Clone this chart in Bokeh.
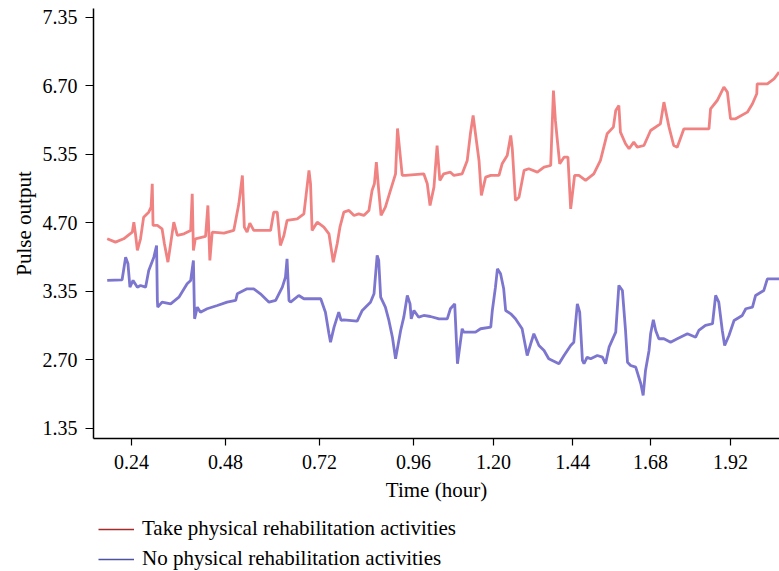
from bokeh.plotting import figure
from bokeh.layouts import column
from bokeh.models import Legend, LegendItem, FixedTicker, Range1d
from bokeh.embed import file_html
from bokeh.resources import INLINE

# Series: "Take physical rehabilitation activities"
time_take = [0.178, 0.199, 0.220, 0.242, 0.246, 0.250, 0.255, 0.263, 0.271, 0.284,
             0.290, 0.293, 0.295, 0.306, 0.318, 0.324, 0.333, 0.340, 0.348, 0.357,
             0.374, 0.391, 0.395, 0.398, 0.403, 0.429, 0.435, 0.440, 0.446, 0.476,
             0.501, 0.514, 0.523, 0.528, 0.535, 0.542, 0.552, 0.595, 0.603, 0.612,
             0.620, 0.629, 0.637, 0.663, 0.680, 0.693, 0.697, 0.701, 0.714, 0.731,
             0.744, 0.755, 0.765, 0.772, 0.782, 0.795, 0.808, 0.820, 0.833, 0.846,
             0.854, 0.860, 0.865, 0.871, 0.877, 0.888, 0.901, 0.914, 0.919, 0.931,
             0.939, 0.986, 0.995, 1.002, 1.012, 1.020, 1.027, 1.037, 1.054, 1.063,
             1.084, 1.097, 1.105, 1.112, 1.118, 1.127, 1.133, 1.144, 1.157, 1.178,
             1.186, 1.199, 1.208, 1.212, 1.220, 1.229, 1.242, 1.254, 1.276, 1.293,
             1.310, 1.317, 1.322, 1.327, 1.333, 1.344, 1.354, 1.361, 1.371, 1.382,
             1.399, 1.420, 1.437, 1.454, 1.470, 1.476, 1.484, 1.488, 1.501, 1.510,
             1.522, 1.531, 1.548, 1.565, 1.590, 1.599, 1.612, 1.624, 1.633, 1.650,
             1.714, 1.718, 1.735, 1.752, 1.761, 1.769, 1.782, 1.812, 1.825, 1.836,
             1.837, 1.863, 1.880, 1.893]
pulse_take = [4.119, 4.070, 4.119, 4.216, 4.362, 4.197, 3.949, 4.119, 4.435, 4.508,
              4.581, 4.922, 4.314, 4.314, 4.265, 4.046, 3.778, 4.051, 4.362, 4.168,
              4.192, 4.241, 4.776, 3.949, 4.119, 4.153, 4.606, 3.803, 4.216, 4.201,
              4.241, 4.630, 5.044, 4.289, 4.216, 4.347, 4.241, 4.241, 4.508, 4.508,
              4.022, 4.168, 4.387, 4.411, 4.484, 5.117, 4.922, 4.241, 4.362, 4.289,
              4.192, 3.778, 4.046, 4.289, 4.508, 4.533, 4.460, 4.484, 4.460, 4.533,
              4.825, 4.922, 5.238, 4.825, 4.460, 4.581, 4.825, 5.068, 5.730, 5.044,
              5.044, 5.068, 4.922, 4.606, 4.873, 5.481, 4.971, 5.068, 5.092, 5.044,
              5.068, 5.263, 5.652, 5.919, 5.652, 5.263, 4.752, 5.019, 5.044, 5.044,
              5.214, 5.336, 5.628, 5.433, 4.679, 4.727, 5.117, 5.141, 5.092, 5.165,
              5.189, 6.284, 5.847, 5.554, 5.214, 5.311, 5.311, 4.557, 5.044, 5.044,
              4.971, 5.068, 5.263, 5.652, 5.749, 5.992, 6.065, 5.676, 5.506, 5.433,
              5.530, 5.457, 5.481, 5.700, 5.798, 6.114, 5.749, 5.481, 5.457, 5.725,
              5.725, 6.017, 6.138, 6.333, 6.260, 5.871, 5.871, 5.968, 6.090, 6.236,
              6.382, 6.382, 6.455, 6.552]

# Series: "No physical rehabilitation activities"
time_no = [0.178, 0.216, 0.225, 0.231, 0.236, 0.244, 0.255, 0.263, 0.276, 0.284,
           0.297, 0.304, 0.306, 0.307, 0.318, 0.340, 0.361, 0.382, 0.391, 0.398,
           0.401, 0.408, 0.416, 0.433, 0.459, 0.484, 0.506, 0.510, 0.535, 0.552,
           0.569, 0.591, 0.608, 0.625, 0.633, 0.637, 0.642, 0.646, 0.667, 0.680,
           0.697, 0.723, 0.735, 0.744, 0.748, 0.757, 0.769, 0.775, 0.782, 0.816,
           0.829, 0.850, 0.859, 0.867, 0.871, 0.876, 0.888, 0.897, 0.906, 0.914,
           0.927, 0.935, 0.944, 0.951, 0.954, 0.961, 0.973, 0.986, 1.003, 1.025,
           1.046, 1.054, 1.065, 1.072, 1.084, 1.088, 1.118, 1.131, 1.157, 1.161,
           1.169, 1.174, 1.182, 1.190, 1.195, 1.208, 1.220, 1.237, 1.250, 1.259,
           1.267, 1.280, 1.293, 1.305, 1.331, 1.344, 1.361, 1.369, 1.378, 1.384,
           1.391, 1.395, 1.403, 1.412, 1.429, 1.442, 1.450, 1.459, 1.476, 1.484,
           1.493, 1.501, 1.506, 1.514, 1.527, 1.540, 1.546, 1.552, 1.561, 1.565,
           1.572, 1.578, 1.586, 1.599, 1.616, 1.633, 1.659, 1.680, 1.688, 1.705,
           1.723, 1.731, 1.739, 1.748, 1.754, 1.765, 1.778, 1.799, 1.808, 1.825,
           1.833, 1.854, 1.863, 1.893]
pulse_no = [3.511, 3.521, 3.851, 3.754, 3.413, 3.511, 3.413, 3.438, 3.413, 3.657,
            3.851, 4.022, 3.219, 3.121, 3.194, 3.170, 3.267, 3.462, 3.511, 3.803,
            2.951, 3.121, 3.048, 3.098, 3.146, 3.194, 3.219, 3.316, 3.389, 3.389,
            3.316, 3.194, 3.219, 3.413, 3.559, 3.827, 3.219, 3.194, 3.292, 3.244,
            3.244, 3.244, 3.048, 2.733, 2.610, 2.829, 3.048, 2.927, 2.937, 2.916,
            3.073, 3.194, 3.316, 3.876, 3.803, 3.267, 3.121, 2.927, 2.683, 2.368,
            2.781, 2.975, 3.292, 3.170, 2.951, 3.073, 2.975, 3.000, 2.985, 2.951,
            2.951, 3.098, 3.170, 2.295, 2.806, 2.756, 2.756, 2.806, 2.829, 3.073,
            3.413, 3.681, 3.608, 3.389, 3.073, 3.024, 2.951, 2.806, 2.416, 2.587,
            2.733, 2.562, 2.489, 2.368, 2.295, 2.416, 2.562, 2.610, 3.170, 3.048,
            2.343, 2.295, 2.391, 2.368, 2.416, 2.391, 2.295, 2.537, 2.756, 3.438,
            3.365, 2.781, 2.318, 2.270, 2.245, 2.003, 1.832, 2.197, 2.489, 2.733,
            2.937, 2.781, 2.660, 2.660, 2.610, 2.660, 2.733, 2.683, 2.781, 2.854,
            2.879, 3.292, 3.194, 2.781, 2.562, 2.708, 2.927, 3.000, 3.098, 3.121,
            3.292, 3.365, 3.535, 3.535]

x_tick_pos = [0.24, 0.48, 0.72, 0.96, 1.164, 1.366, 1.565, 1.769]
x_tick_labels = ["0.24", "0.48", "0.72", "0.96", "1.20", "1.44", "1.68", "1.92"]
y_tick_pos = [1.35, 2.35, 3.35, 4.35, 5.35, 6.35, 7.35]
y_tick_labels = ["1.35", "2.70", "3.35", "4.70", "5.35", "6.70", "7.35"]

series_names = ["Take physical rehabilitation activities",
                "No physical rehabilitation activities"]

FONT = "Liberation Serif"

p = figure(width=779, height=510,
           x_range=(0.143, 1.894), y_range=(1.204, 7.481),
           output_backend="svg", toolbar_location=None,
           min_border_left=93, min_border_top=8, min_border_right=0,
           min_border_bottom=72)
p.outline_line_color = None
p.xgrid.visible = False
p.ygrid.visible = False
p.background_fill_color = "white"
p.border_fill_color = "white"

p.line(time_take, pulse_take, line_color="#f08282", line_width=2.8)
p.line(time_no, pulse_no, line_color="#7d76cf", line_width=2.8)

for ax in (p.xaxis[0], p.yaxis[0]):
    ax.axis_line_color = "black"
    ax.axis_line_width = 1.5
    ax.major_tick_line_color = "black"
    ax.major_tick_line_width = 1.2
    ax.minor_tick_line_color = None
    ax.major_tick_in = 0
    ax.major_tick_out = 7
    ax.major_label_text_font = FONT
    ax.major_label_text_font_size = "20px"
    ax.major_label_text_color = "black"
    ax.axis_label_text_font = FONT
    ax.axis_label_text_font_size = "21px"
    ax.axis_label_text_font_style = "normal"
    ax.axis_label_text_color = "black"

p.xaxis.ticker = FixedTicker(ticks=x_tick_pos)
p.xaxis.major_label_overrides = dict(zip(x_tick_pos, x_tick_labels))
p.xaxis.axis_label = "Time (hour)"
p.xaxis.major_label_standoff = 9
p.xaxis.axis_label_standoff = 6

p.yaxis.ticker = FixedTicker(ticks=y_tick_pos)
p.yaxis.major_label_overrides = dict(zip(y_tick_pos, y_tick_labels))
p.yaxis.axis_label = "Pulse output"
p.yaxis.major_label_standoff = 8
p.yaxis.axis_label_standoff = 4
p.yaxis.major_tick_out = 8

# Legend lives in its own small strip below the chart; its view range is set
# away from the data so the swatch renderers draw nothing in the strip itself.
pl = figure(width=779, height=61, x_axis_type=None, y_axis_type=None,
            x_range=Range1d(0, 1), y_range=Range1d(-2, -1),
            output_backend="svg", toolbar_location=None,
            min_border=0, min_border_left=0, min_border_right=0,
            min_border_top=0, min_border_bottom=0)
pl.outline_line_color = None
pl.xgrid.visible = False
pl.ygrid.visible = False
pl.border_fill_color = "white"
pl.background_fill_color = "white"

leg_take = pl.line(time_take, pulse_take, line_color="#a52a2a", line_width=1.6)
leg_no = pl.line(time_no, pulse_no, line_color="#4f51a3", line_width=1.6)

legend = Legend(items=[LegendItem(label=series_names[0], renderers=[leg_take]),
                       LegendItem(label=series_names[1], renderers=[leg_no])],
                location=(5, 0), orientation="vertical",
                border_line_color=None, background_fill_alpha=0,
                label_text_font=FONT, label_text_font_size="21px",
                label_text_color="black",
                glyph_width=36, glyph_height=24, label_height=24,
                label_standoff=8, padding=0, margin=0, spacing=5)
pl.add_layout(legend, "center")

layout = column(p, pl, spacing=0)

open("out.html", "w").write(file_html(layout, INLINE))
